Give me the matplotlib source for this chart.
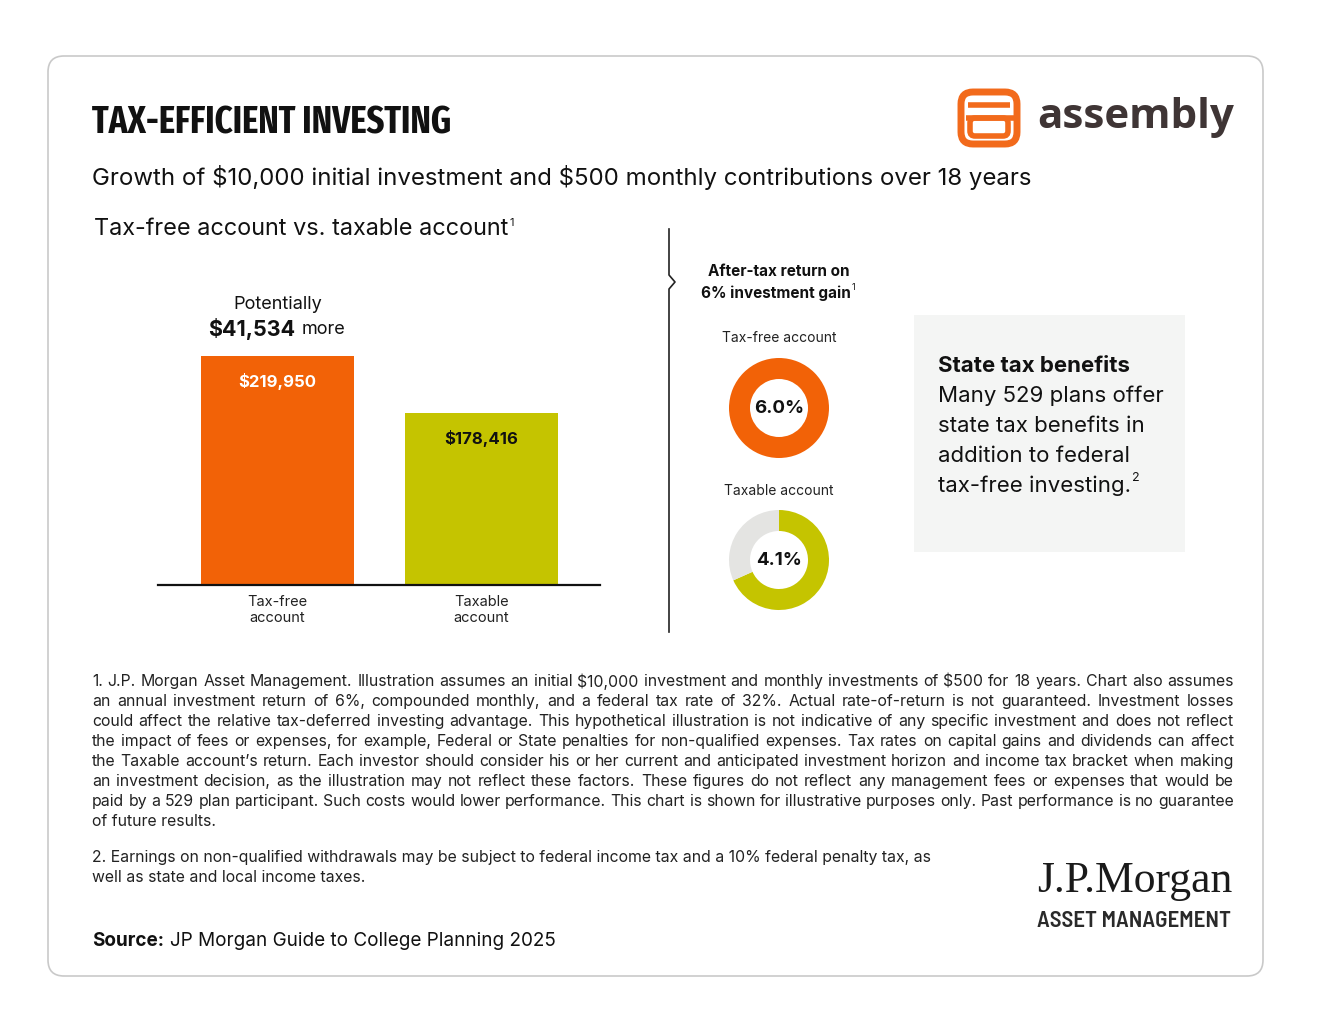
import matplotlib
matplotlib.use("Agg")
import matplotlib.pyplot as plt
from matplotlib import font_manager
from matplotlib.font_manager import FontProperties
from matplotlib.patches import FancyBboxPatch, Rectangle

plt.rcParams['text.parse_math'] = False
plt.rcParams['font.family'] = ['Inter', 'DejaVu Sans']

W, H = 1320, 1020

# data
categories = ['Tax-free\naccount', 'Taxable\naccount']
balances = [219950, 178416]
bar_labels = ['$219,950', '$178,416']
difference = 41534
returns = [6.0, 4.1]
gain = 6.0
donut_titles = ['Tax-free account', 'Taxable account']

orange = '#F26207'
green = '#C5C400'
grey_ring = '#E4E4E2'
dark = '#111111'

footnote1 = [
    "1. J.P. Morgan Asset Management. Illustration assumes an initial $10,000 investment and monthly investments of $500 for 18 years. Chart also assumes",
    "an annual investment return of 6%, compounded monthly, and a federal tax rate of 32%. Actual rate-of-return is not guaranteed. Investment losses",
    "could affect the relative tax-deferred investing advantage. This hypothetical illustration is not indicative of any specific investment and does not reflect",
    "the impact of fees or expenses, for example, Federal or State penalties for non-qualified expenses. Tax rates on capital gains and dividends can affect",
    "the Taxable account\u2019s return. Each investor should consider his or her current and anticipated investment horizon and income tax bracket when making",
    "an investment decision, as the illustration may not reflect these factors. These figures do not reflect any management fees or expenses that would be",
    "paid by a 529 plan participant. Such costs would lower performance. This chart is shown for illustrative purposes only. Past performance is no guarantee",
    "of future results.",
]
footnote2 = [
    "2. Earnings on non-qualified withdrawals may be subject to federal income tax and a 10% federal penalty tax, as",
    "well as state and local income taxes.",
]


# look for narrow bold faces for the headline and the logo line
def find_face(patterns):
    files = sorted(f.fname for f in font_manager.fontManager.ttflist)
    for p in patterns:
        for fn in files:
            base = fn.lower().rsplit('/', 1)[-1].replace('-', '').replace('_', '')
            if p in base and 'italic' not in base:
                return fn
    return None


def face(patterns, fallback_family):
    fn = find_face(patterns)
    if fn:
        return FontProperties(fname=fn)
    return FontProperties(family=fallback_family, weight='bold')


title_font = face(['extracondensedbold.', 'condensedbold.', 'narrowbold.', 'condensedbold'], 'Roboto')
am_font = face(['semicondensedsemibold.', 'condensedsemibold.', 'condensedbold.', 'narrowbold.'], 'Roboto')


def px_axes(x0, y0, x1, y1):
    return fig.add_axes([x0 / W, 1 - y1 / H, (x1 - x0) / W, (y1 - y0) / H])


fig = plt.figure(figsize=(W / 100, H / 100), dpi=100, facecolor='white')
renderer = fig.canvas.get_renderer()

# overlay in pixel coordinates
bg = fig.add_axes([0, 0, 1, 1])
bg.set_xlim(0, W)
bg.set_ylim(H, 0)
bg.axis('off')


def text_width(s, size, **kw):
    t = bg.text(0, 0, s, fontsize=size, **kw)
    bb = t.get_window_extent(renderer)
    t.remove()
    return bb.width


def fit(s, width, size=12, **kw):
    return size * width / text_width(s, size, **kw)


card = FancyBboxPatch((48, 57), 1215, 920, boxstyle='round,pad=0,rounding_size=16',
                      facecolor='white', edgecolor='#C9C9C9', lw=1.2)
bg.add_patch(card)

# headings
title_font.set_size(12)
title_font.set_size(min(fit('TAX-EFFICIENT INVESTING', 360, fontproperties=title_font), 30))
bg.text(92, 123, 'TAX-EFFICIENT INVESTING', fontproperties=title_font,
        color=dark, va='center', ha='left')
sub = 'Growth of $10,000 initial investment and $500 monthly contributions over 18 years'
bg.text(92, 177, sub, fontsize=fit(sub, 938), color=dark, va='center', ha='left')
sub2 = 'Tax-free account vs. taxable account'
s2 = fit(sub2, 414)
bg.text(94, 229, sub2, fontsize=s2, color=dark, va='center', ha='left')
bg.text(94 + 415, 223, '1', fontsize=8, color=dark, va='center', ha='left')

# assembly logo
logo_c = '#F26A1B'
bg.add_patch(FancyBboxPatch((961, 93), 56, 52, boxstyle='round,pad=0,rounding_size=12',
                            facecolor='none', edgecolor=logo_c, lw=5))
bg.add_patch(FancyBboxPatch((970, 119), 38, 18, boxstyle='round,pad=0,rounding_size=5',
                            facecolor='none', edgecolor=logo_c, lw=4))
bg.plot([966, 1017], [119, 119], color=logo_c, lw=4, solid_capstyle='butt')
bg.plot([968, 1010], [106, 106], color=logo_c, lw=4, solid_capstyle='butt')
logo_fam = ['Open Sans', 'DejaVu Sans']
bg.text(1037, 117, 'assembly', fontsize=fit('assembly', 197, fontweight='bold', family=logo_fam),
        fontweight='bold', color='#3F3535', family=logo_fam, va='center', ha='left')

# divider with notch
bg.plot([669, 669, 675, 669, 669], [230, 276, 283, 290, 633], color='#222222', lw=1.2)

# bar chart
ax = px_axes(158, 290, 600, 586)
x = [0, 1]
ax.bar(x, balances, width=0.75, color=[orange, green], zorder=2)
ax.set_xlim(-0.586, 1.581)
ax.set_ylim(53085, 53085 + 215700)
ax.set_yticks([])
ax.set_xticks([])
for s in ['top', 'right', 'left']:
    ax.spines[s].set_visible(False)
ax.spines['bottom'].set_linewidth(1.6)
ax.spines['bottom'].set_color('#111111')
ax.patch.set_alpha(0)
lab_col = ['white', dark]
for xi, v, t, c in zip(x, balances, bar_labels, lab_col):
    ax.annotate(t, (xi, v), xytext=(0, -17.5), textcoords='offset points', ha='center',
                va='center', fontsize=12, fontweight='bold', color=c)
for xi, cat in zip(x, categories):
    ax.annotate(cat, (xi, 53085), xytext=(0, -6.5), textcoords='offset points', ha='center',
                va='top', fontsize=10.5, color='#222222', linespacing=1.15)
ax.annotate('Potentially', (0, balances[0]), xytext=(0, 38), textcoords='offset points',
            ha='center', va='center', fontsize=13, color=dark)
ax.annotate('${:,}'.format(difference), (0, balances[0]), xytext=(-18.5, 20), textcoords='offset points',
            ha='center', va='center', fontsize=15.5, fontweight='bold', color=dark)
ax.annotate('more', (0, balances[0]), xytext=(33, 19.5), textcoords='offset points',
            ha='center', va='center', fontsize=13, color=dark)

# donuts
bg.text(779, 272, 'After-tax return on', fontsize=11, fontweight='bold', ha='center', va='center', color=dark)
g2 = '6% investment gain'
bg.text(776, 293, g2, fontsize=11, fontweight='bold', ha='center', va='center', color=dark)
bg.text(776 + text_width(g2, 11, fontweight='bold') / 2 + 1, 288, '1', fontsize=6.5,
        ha='left', va='center', color=dark)
centers = [409, 561]
title_y = [338, 491]
ring_cols = [[orange, grey_ring], [green, grey_ring]]
for r, cy, ty, t, cols in zip(returns, centers, title_y, donut_titles, ring_cols):
    bg.text(779, ty, t, fontsize=10, ha='center', va='center', color='#222222')
    dax = px_axes(729, cy - 50, 829, cy + 50)
    vals = [r, gain - r] if gain - r > 0 else [r]
    dax.pie(vals, colors=cols[:len(vals)], startangle=90, counterclock=False,
            wedgeprops=dict(width=0.42, edgecolor='none'))
    dax.set_xlim(-1, 1)
    dax.set_ylim(-1, 1)
    dax.set_aspect('equal')
    dax.text(0, 0, '{:.1f}%'.format(r), ha='center', va='center', fontsize=13.5,
             fontweight='bold', color=dark)

# state tax box
bg.add_patch(Rectangle((914, 316), 271, 237, facecolor='#F4F5F4', edgecolor='none'))
bg.text(938, 366, 'State tax benefits', fontsize=16, fontweight='bold', color=dark, va='center')
box_lines = ['Many 529 plans offer', 'state tax benefits in', 'addition to federal',
             'tax-free investing.']
for i, ln in enumerate(box_lines):
    bg.text(938, 396 + 30 * i, ln, fontsize=16, color=dark, va='center')
end_x = 938 + text_width(box_lines[-1], 16)
bg.text(end_x + 1, 478, '2', fontsize=9, color=dark, va='center')

# footnotes, justified
fn_size = 10.5
longest = max(text_width(ln, fn_size) for ln in footnote1[:-1])
fn_size = fn_size * 1142 / longest


def justified(lines, x0, x1, y0, step, size):
    for i, ln in enumerate(lines):
        y = y0 + step * i
        words = ln.split(' ')
        if i == len(lines) - 1:
            bg.text(x0, y, ln, fontsize=size, color='#222222', va='center')
            continue
        widths = [text_width(w, size) for w in words]
        gap = (x1 - x0 - sum(widths)) / (len(words) - 1)
        xx = x0
        for w, wd in zip(words, widths):
            bg.text(xx, y, w, fontsize=size, color='#222222', va='center')
            xx += wd + gap


justified(footnote1, 92, 1234, 682, 20, fn_size)
for i, ln in enumerate(footnote2):
    bg.text(92, 858 + 20 * i, ln, fontsize=fn_size, color='#222222', va='center')

src_size = fit('Source: JP Morgan Guide to College Planning 2025', 460)
bg.text(92, 941, 'Source:', fontsize=src_size, fontweight='bold', color=dark, va='center')
bx = 92 + text_width('Source:', src_size, fontweight='bold') + 6
bg.text(bx, 941, 'JP Morgan Guide to College Planning 2025', fontsize=src_size, color=dark, va='center')

# JP Morgan logo
serif = ['Liberation Serif', 'DejaVu Serif']
bg.text(1232, 881, 'J.P.Morgan', fontsize=fit('J.P.Morgan', 196, family=serif), family=serif,
        color='#1A1A1A', ha='right', va='center')
am_font.set_size(12)
am_font.set_size(fit('ASSET MANAGEMENT', 194, fontproperties=am_font))
bg.text(1231, 921, 'ASSET MANAGEMENT', fontproperties=am_font,
        color='#2A2A2A', ha='right', va='center')

fig.savefig('out.png', dpi=100, facecolor='white')
